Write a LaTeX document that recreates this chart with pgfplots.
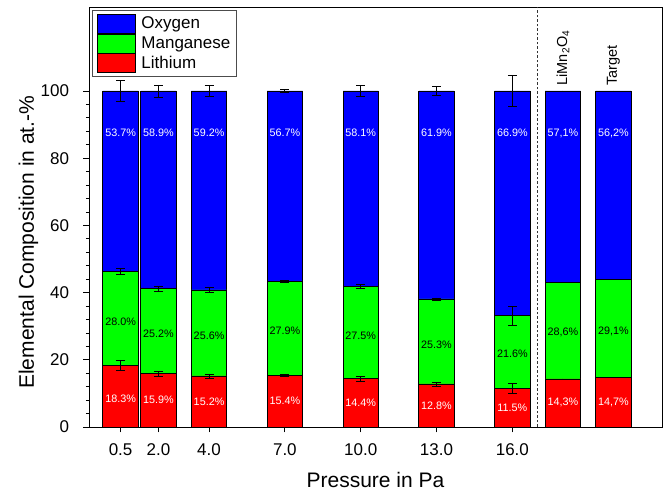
\documentclass[border=0pt]{standalone}
\usepackage{pgfplots}
\pgfplotsset{compat=1.18}
\usepackage{fontspec}
\setmainfont{Liberation Sans}
\setsansfont{Liberation Sans}
\definecolor{oxy}{RGB}{0,0,255}
\definecolor{mn}{RGB}{0,255,0}
\definecolor{li}{RGB}{255,0,0}
\pgfplotsset{
  mybar/.style={ybar, bar width=1.4, bar shift=0pt, draw=black, line width=0.8pt,
    legend image code/.code={\draw[##1] (0pt,-9.5pt) rectangle (38pt,9.5pt);}},
  myerr/.style={error bars/.cd, y dir=both, y explicit,
    error bar style={line width=0.8pt, black},
    error mark options={rotate=90, mark size=4.5pt, line width=0.8pt, black}},
  mylab/.style={forget plot, draw=none, mark=none, nodes near coords, point meta=explicit symbolic,
    every node near coord/.append style={anchor=center, inner sep=0pt, font=\fontsize{10.8}{12}\selectfont, text=#1}},
}
\begin{document}
\begin{tikzpicture}
\path[use as bounding box] (-89pt,-67pt) rectangle (578pt,427pt);
\begin{axis}[
  scale only axis, width=573pt, height=420pt,
  at={(0pt,0pt)}, anchor=south west,
  xmin=-0.75, xmax=21.92, ymin=0, ymax=125,
  axis line style={line width=0.9pt},
  tick align=outside,
  xtick pos=bottom, ytick pos=left,
  xtick={0.5,2,4,7,10,13,16},
  xticklabels={0.5,2.0,4.0,7.0,10.0,13.0,16.0},
  ytick={0,20,...,100},
  minor ytick={4,8,...,96},
  major tick length=5.5pt, minor tick length=3pt,
  tick style={black, line width=0.8pt},
  /pgf/number format/assume math mode=true,
  ticklabel style={font=\fontsize{17}{20}\selectfont},
  yticklabel style={xshift=-11pt},
  xticklabel style={yshift=-8pt},
  xlabel={Pressure in Pa},
  ylabel={Elemental Composition in at.-\%},
  every axis x label/.style={at={(axis description cs:0.5,-0.145)}, anchor=base, font=\fontsize{21}{24}\selectfont},
  every axis y label/.style={at={(axis description cs:-0.096,0.44)}, rotate=90, anchor=base, font=\fontsize{21}{24}\selectfont},
  legend style={at={(0.005,0.993)}, anchor=north west, draw=black!70, line width=0.6pt,
    font=\fontsize{17}{20}\selectfont, inner xsep=5pt, inner ysep=3.5pt, row sep=0pt, column sep=4.5pt,
    nodes={inner sep=1pt}},
  legend cell align=left,
]
\addplot[mybar, fill=oxy, myerr] coordinates {
  (0.5,100) +- (0,3.1) (2,100) +- (0,1.8) (4,100) +- (0,1.6) (7,100) +- (0,0.4)
  (10,100) +- (0,1.6) (13,100) +- (0,1.3) (16,100) +- (0,4.5)
  (18,100) +- (0,0) (20,100) +- (0,0)};
\addlegendentry{Oxygen}
\addplot[mybar, fill=mn, myerr] coordinates {
  (0.5,46.3) +- (0,1.0) (2,41.1) +- (0,0.7) (4,40.8) +- (0,0.6) (7,43.3) +- (0,0.3)
  (10,41.9) +- (0,0.6) (13,38.1) +- (0,0.3) (16,33.1) +- (0,2.9)
  (18,42.9) +- (0,0) (20,43.8) +- (0,0)};
\addlegendentry{Manganese}
\addplot[mybar, fill=li, myerr] coordinates {
  (0.5,18.3) +- (0,1.6) (2,15.9) +- (0,0.7) (4,15.2) +- (0,0.6) (7,15.4) +- (0,0.2)
  (10,14.4) +- (0,0.7) (13,12.8) +- (0,0.6) (16,11.5) +- (0,1.5)
  (18,14.3) +- (0,0) (20,14.7) +- (0,0)};
\addlegendentry{Lithium}
\addplot[mylab=white] coordinates {
  (0.5,87.5) [53.7\%] (2,87.5) [58.9\%] (4,87.5) [59.2\%] (7,87.5) [56.7\%]
  (10,87.5) [58.1\%] (13,87.5) [61.9\%] (16,87.5) [66.9\%]
  (18,87.5) [57,1\%] (20,87.5) [56,2\%]};
\addplot[mylab=black] coordinates {
  (0.5,31.2) [28.0\%] (2,27.7) [25.2\%] (4,27.2) [25.6\%] (7,28.6) [27.9\%]
  (10,27.2) [27.5\%] (13,24.6) [25.3\%] (16,21.9) [21.6\%]
  (18,28.0) [28,6\%] (20,28.4) [29,1\%]};
\addplot[mylab=white] coordinates {
  (0.5,8.5) [18.3\%] (2,8.0) [15.9\%] (4,7.6) [15.2\%] (7,7.7) [15.4\%]
  (10,7.2) [14.4\%] (13,6.4) [12.8\%] (16,5.8) [11.5\%]
  (18,7.2) [14,3\%] (20,7.4) [14,7\%]};
\draw[black!80, line width=0.6pt, dash pattern=on 2.5pt off 2pt] (axis cs:17,0) -- (axis cs:17,125);
\node[rotate=90, anchor=west, inner sep=0pt, font=\fontsize{14.5}{17}\selectfont] at (axis cs:18,101.6) {LiMn\textsubscript{2}O\textsubscript{4}};
\node[rotate=90, anchor=west, inner sep=0pt, font=\fontsize{14.5}{17}\selectfont] at (axis cs:20,101.6) {Target};
\end{axis}
\end{tikzpicture}
\end{document}
